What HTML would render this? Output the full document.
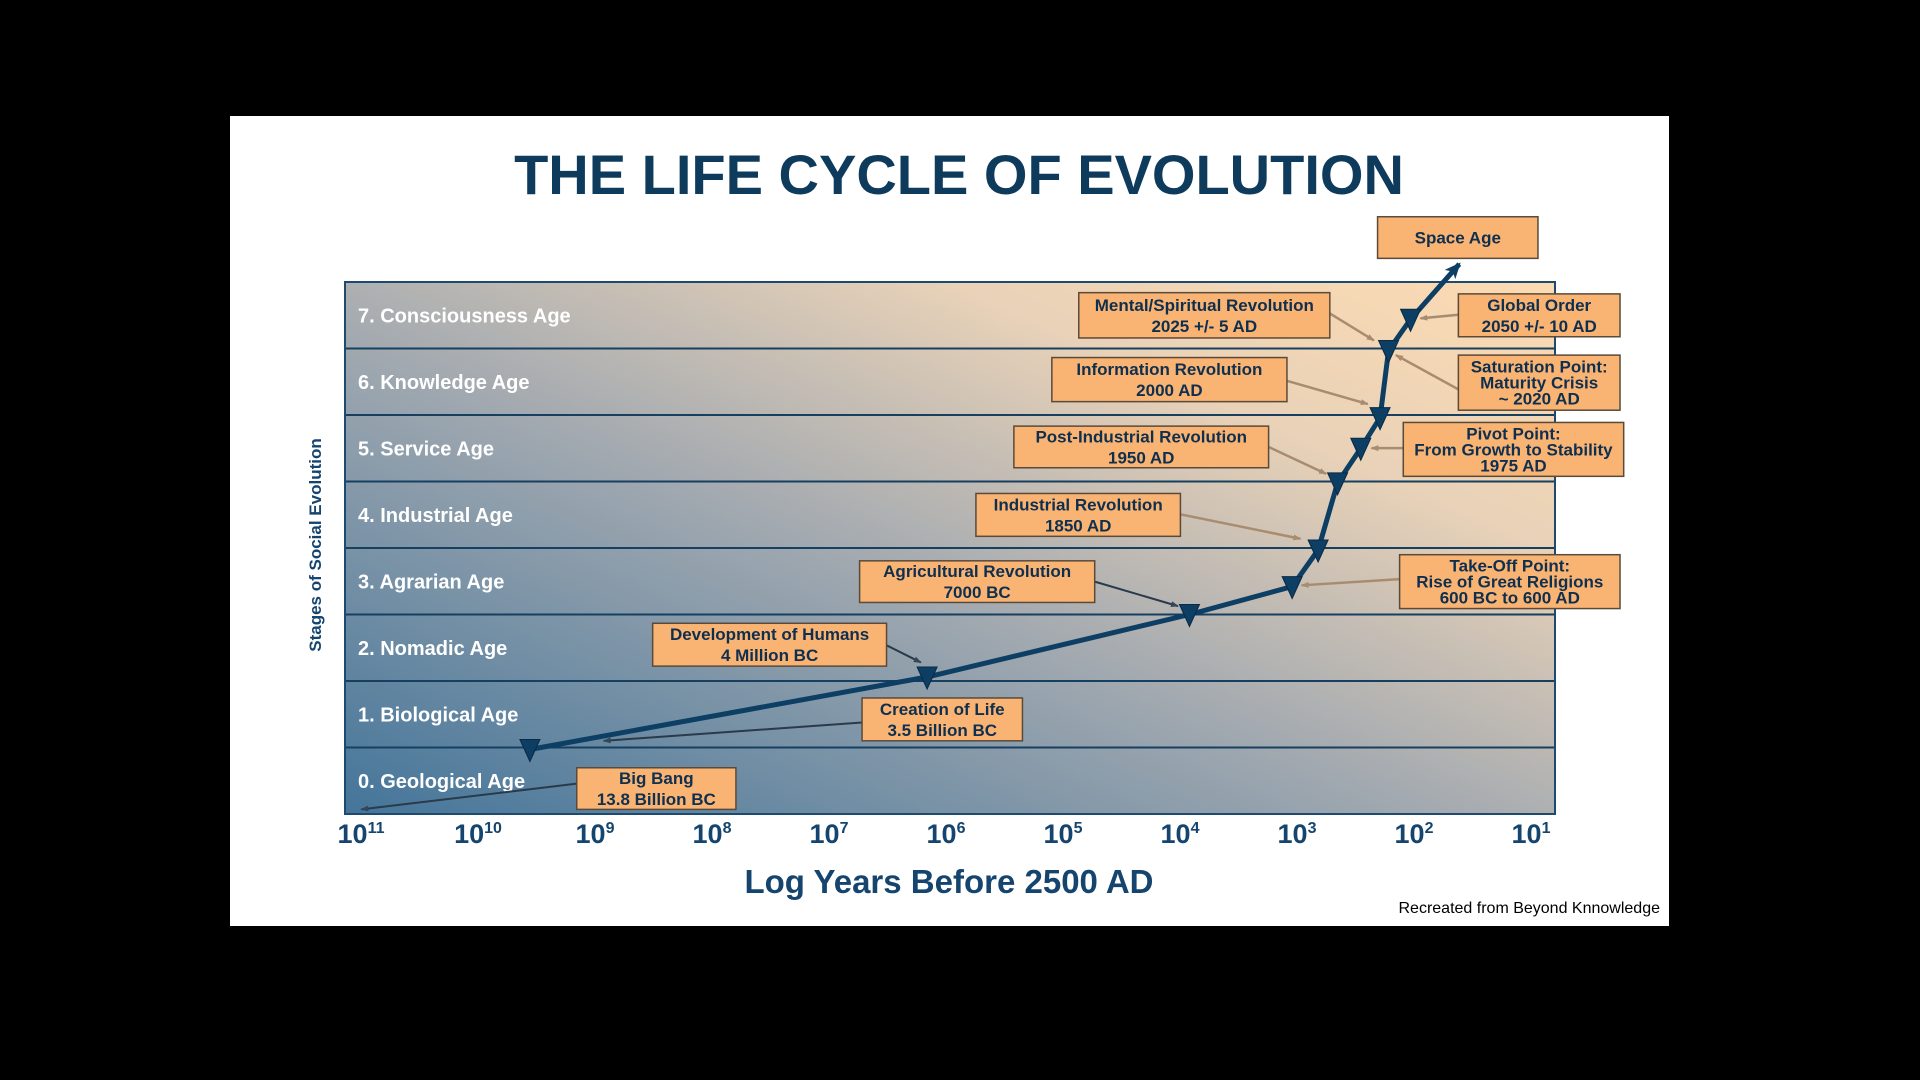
<!DOCTYPE html>
<html><head><meta charset="utf-8"><style>
html,body{margin:0;padding:0;background:#000;width:1920px;height:1080px;overflow:hidden}
svg{display:block;font-family:"Liberation Sans",sans-serif}
</style></head><body>
<svg id="chart" width="1920" height="1080" xmlns="http://www.w3.org/2000/svg">
<defs>
<linearGradient id="bg" x1="0" y1="1" x2="1" y2="0">
<stop offset="0" stop-color="#44759a"/>
<stop offset="0.45" stop-color="#a2a9b0"/>
<stop offset="0.75" stop-color="#e9d2b8"/>
<stop offset="1" stop-color="#fddbb2"/>
</linearGradient>
<marker id="tan" markerWidth="8" markerHeight="8" refX="7" refY="4" orient="auto" markerUnits="userSpaceOnUse"><path d="M0,1 L8,4 L0,7z" fill="#a88c70"/></marker>
<marker id="dk" markerWidth="8" markerHeight="8" refX="7" refY="4" orient="auto" markerUnits="userSpaceOnUse"><path d="M0,1 L8,4 L0,7z" fill="#34475a"/></marker>
<marker id="big" markerWidth="16" markerHeight="14" refX="14" refY="7" orient="auto" markerUnits="userSpaceOnUse"><path d="M0,0 L16,7 L0,14 L4,7z" fill="#0d3e63"/></marker>
</defs>
<rect x="230" y="116" width="1439" height="810" fill="#fff"/>
<text x="959" y="194" text-anchor="middle" font-size="56" font-weight="bold" fill="#0e3a5c">THE LIFE CYCLE OF EVOLUTION</text>
<rect x="345" y="282" width="1210" height="532" fill="url(#bg)"/>
<g id="rows"></g>
<rect x="345" y="282" width="1210" height="532" fill="none" stroke="#1d4a6e" stroke-width="2"/>
<g id="ticks"></g>
<text x="949" y="893" text-anchor="middle" font-size="33" font-weight="bold" fill="#15456e">Log Years Before 2500 AD</text>
<text transform="translate(321,545) rotate(-90)" text-anchor="middle" font-size="17" font-weight="bold" fill="#15456e">Stages of Social Evolution</text>
<text x="1660" y="913" text-anchor="end" font-size="16" fill="#000">Recreated from Beyond Knnowledge</text>
<g id="annots"></g>
<g id="series"></g>
<g id="boxes"></g>
</svg>
<script>
const stages = ["0. Geological Age","1. Biological Age","2. Nomadic Age","3. Agrarian Age","4. Industrial Age","5. Service Age","6. Knowledge Age","7. Consciousness Age"];
const tickExps = [11,10,9,8,7,6,5,4,3,2,1];
const pointYears = [3.6e9,1.45e6,8300,1100,660,450,285,195,165,107];
const pointStages = [0.97,2.06,3.0,3.42,3.97,4.98,5.5,5.96,6.97,7.44];
const endYear = 41;
const endStage = 8.27;
const NS="http://www.w3.org/2000/svg";
const X0=361, DX=117, Y0=814, DY=66.5;
function xs(years){return X0+(11-Math.log10(years))*DX;}
function ys(s){return Y0-s*DY;}
function mk(tag,attrs,parent){const e=document.createElementNS(NS,tag);for(const k in attrs)e.setAttribute(k,attrs[k]);parent.appendChild(e);return e;}
const rows=document.getElementById('rows');
stages.forEach((s,i)=>{
  if(i>0){const l=mk('line',{x1:345,x2:1555,y1:ys(i),y2:ys(i),stroke:'#163f60','stroke-width':2},rows);
  
  }
  const t=mk('text',{x:358,y:ys(i+0.5)+7,'font-size':20,fill:'#fff','font-weight':'bold',textLength:'',},rows);
  t.removeAttribute('textLength');
  t.textContent=s;
  
  
});
const ticks=document.getElementById('ticks');
tickExps.forEach(e=>{
  const t=mk('text',{x:X0+(11-e)*DX,y:843,'text-anchor':'middle','font-size':27,'font-weight':'bold',fill:'#15456e'},ticks);
  t.innerHTML='10<tspan font-size="16" dy="-10">'+e+'</tspan>';
  
  
});
const ser=document.getElementById('series');
let d=pointYears.map((y,i)=>(i?'L':'M')+xs(y)+','+ys(pointStages[i])).join(' ')+' L'+xs(endYear)+','+ys(endStage);
const p=mk('path',{d:d,fill:'none',stroke:'#0d3e63','stroke-width':5,'marker-end':'url(#big)'},ser);


pointYears.forEach((y,i)=>{
  const cx=xs(y),cy=ys(pointStages[i]);
  const m=mk('path',{d:`M${cx-10},${cy-10} L${cx+10},${cy-10} L${cx},${cy+12}z`,fill:'#0d3e63',stroke:'#0a2a45','stroke-width':1},ser);
  
  
});
const S=1.2245;
const boxes=[
 ["Space Age",1125,177,1256,211,["Space Age"]],
 ["mental",881,239,1086,276,["Mental/Spiritual Revolution","2025 +/- 5 AD"]],
 ["global",1191,240,1323,275,["Global Order","2050 +/- 10 AD"]],
 ["info",859,292,1051,328,["Information Revolution","2000 AD"]],
 ["sat",1191,290,1323,335,["Saturation Point:","Maturity Crisis","~ 2020 AD"]],
 ["post",828,348,1036,382,["Post-Industrial Revolution","1950 AD"]],
 ["pivot",1146,345,1326,389,["Pivot Point:","From Growth to Stability","1975 AD"]],
 ["ind",797,403,964,438,["Industrial Revolution","1850 AD"]],
 ["takeoff",1143,453,1323,497,["Take-Off Point:","Rise of Great Religions","600 BC to 600 AD"]],
 ["agri",702,458,894,492,["Agricultural Revolution","7000 BC"]],
 ["dev",533,509,724,544,["Development of Humans","4 Million BC"]],
 ["creation",704,570,835,605,["Creation of Life","3.5 Billion BC"]],
 ["bigbang",471,627,601,661,["Big Bang","13.8 Billion BC"]]
];
const bg=document.getElementById('boxes');
boxes.forEach(b=>{
  const x1=b[1]*S,y1=b[2]*S,x2=b[3]*S,y2=b[4]*S;
  const g=mk('g',{},bg);
  
  
  mk('rect',{x:x1,y:y1,width:x2-x1,height:y2-y1,fill:'#f9b372',stroke:'#5a4a3a','stroke-width':1.5},g);
  const L=b[5],n=L.length,cx=(x1+x2)/2,h=y2-y1;
  const lh=n===3?16:(n===2?21:0);
  L.forEach((s,i)=>{
    const t=mk('text',{x:cx,y:(y1+y2)/2+6+(i-(n-1)/2)*lh,'text-anchor':'middle','font-size':n===3?17:17,'font-weight':'bold',fill:'#0f2f4f'},g);
    t.textContent=s;
  });
});
const arrows=[
 [1086,256,1122,278,'tan'],[1191,257,1160,260,'tan'],[1051,311,1117,330,'tan'],[1191,318,1140,290,'tan'],
 [1036,365,1083,387,'tan'],[1146,366,1120,366,'tan'],[964,420,1062,440,'tan'],[1143,473,1063,478,'tan'],
 [894,475,962,495,'dk'],[724,527,752,541,'dk'],[704,590,493,605,'dk'],[471,640,295,661,'dk']
];
const ag=document.getElementById('annots');
arrows.forEach(a=>{
  const l=mk('line',{x1:a[0]*S,y1:a[1]*S,x2:a[2]*S,y2:a[3]*S,stroke:a[4]==='tan'?'#a88c70':'#2a3a4a','stroke-width':a[4]==='tan'?2.5:2,'marker-end':'url(#'+a[4]+')'},ag);
  
  
});
</script>
</body></html>
